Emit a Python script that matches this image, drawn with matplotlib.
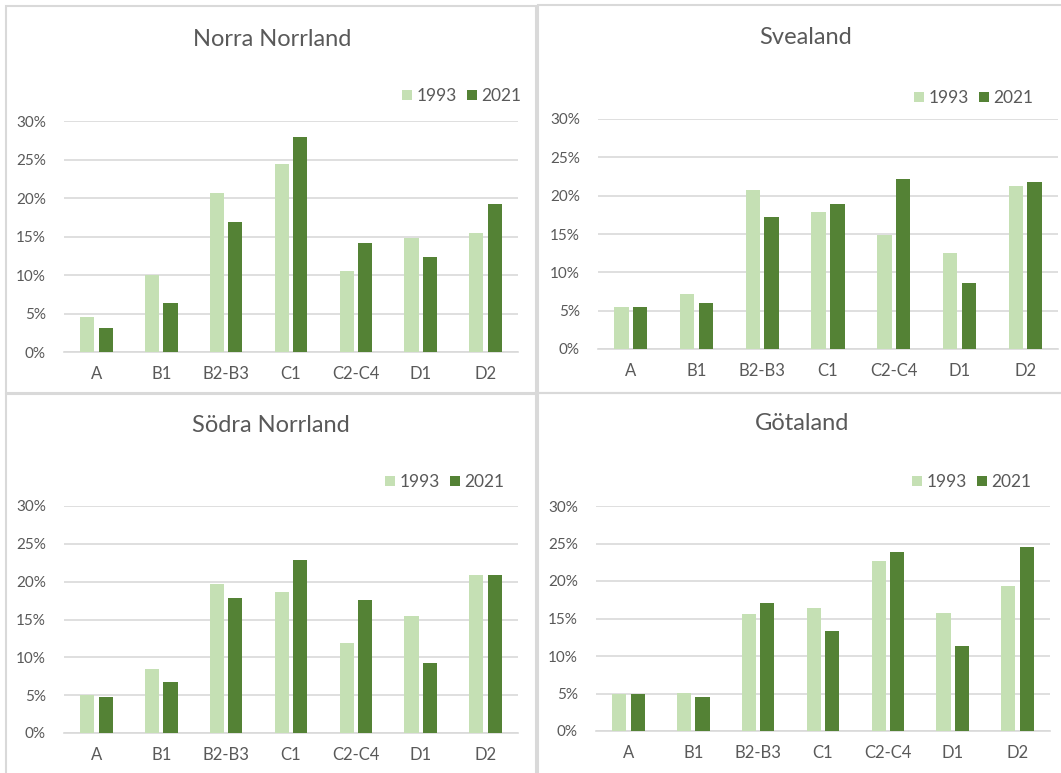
import matplotlib
matplotlib.use("Agg")
import matplotlib.pyplot as plt
from matplotlib.patches import Rectangle
from matplotlib.ticker import FuncFormatter

categories = ["A", "B1", "B2-B3", "C1", "C2-C4", "D1", "D2"]
series_names = ["1993", "2021"]

norra_norrland_1993 = [4.5, 10.0, 20.6, 24.4, 10.5, 14.8, 15.5]
norra_norrland_2021 = [3.1, 6.4, 16.9, 27.9, 14.2, 12.3, 19.2]

svealand_1993 = [5.5, 7.2, 20.8, 17.9, 14.9, 12.5, 21.2]
svealand_2021 = [5.5, 6.0, 17.2, 18.9, 22.2, 8.6, 21.8]

sodra_norrland_1993 = [5.0, 8.5, 19.7, 18.7, 11.9, 15.4, 20.9]
sodra_norrland_2021 = [4.8, 6.7, 17.9, 22.9, 17.6, 9.2, 20.9]

gotaland_1993 = [5.0, 5.1, 15.6, 16.4, 22.7, 15.8, 19.4]
gotaland_2021 = [5.0, 4.6, 17.1, 13.3, 23.9, 11.4, 24.6]

titles = ["Norra Norrland", "Svealand", "Södra Norrland", "Götaland"]
y_ticks = [0, 5, 10, 15, 20, 25, 30]

W, H = 1061, 773
fig = plt.figure(figsize=(W / 100, H / 100), dpi=100)
fig.patch.set_facecolor("white")

FONT = "Lato"
TXT = "#595959"
GRID = "#D9D9D9"
LIGHT = "#C5E0B4"
DARK = "#548235"

# panel pixel layout: (gx0, gx1, y30, y0, title_x, title_y, legend_right, legend_y)
panels = [
    (64, 518, 121, 352, 272, 40, 521, 96),
    (598, 1058, 119, 349, 806, 38, 1033, 98),
    (64, 518, 506, 733, 271, 425, 504, 482),
    (596, 1050, 506, 731, 802, 424, 1031, 482),
]
data = [
    (norra_norrland_1993, norra_norrland_2021),
    (svealand_1993, svealand_2021),
    (sodra_norrland_1993, sodra_norrland_2021),
    (gotaland_1993, gotaland_2021),
]

# panel borders (pixels: x0, y0, x1, y1)
borders = [(6, 6, 536, 393), (538, 5, 1070, 393), (6, 394, 536, 780), (538, 393, 1070, 780)]
for (bx0, by0, bx1, by1) in borders:
    fig.patches.append(Rectangle((bx0 / W, 1 - by1 / H), (bx1 - bx0) / W, (by1 - by0) / H,
                                 transform=fig.transFigure, fill=False,
                                 edgecolor=GRID, linewidth=1.5, zorder=0))

x = list(range(len(categories)))
bw = 0.22
off = 0.142
for (gx0, gx1, y30, y0, tx, ty, lx, ly), (v1, v2), title in zip(panels, data, titles):
    ax = fig.add_axes([gx0 / W, 1 - y0 / H, (gx1 - gx0) / W, (y0 - y30) / H])
    ax.set_facecolor("none")
    ax.bar([i - off for i in x], v1, width=bw, color=LIGHT, label=series_names[0], zorder=3)
    ax.bar([i + off for i in x], v2, width=bw, color=DARK, label=series_names[1], zorder=3)
    ax.set_xlim(-0.5, len(categories) - 0.5)
    ax.set_ylim(0, 30)
    ax.set_yticks(y_ticks)
    ax.yaxis.set_major_formatter(FuncFormatter(lambda v, p: f"{int(round(v))}%"))
    ax.set_xticks(x)
    ax.set_xticklabels(categories)
    ax.grid(axis="y", color=GRID, linewidth=1.2, zorder=0)
    ax.set_axisbelow(True)
    for s in ["top", "right", "left"]:
        ax.spines[s].set_visible(False)
    ax.spines["bottom"].set_color(GRID)
    ax.spines["bottom"].set_linewidth(1.2)
    ax.tick_params(axis="both", length=0, labelcolor=TXT)
    ax.tick_params(axis="y", pad=13, labelsize=11)
    ax.tick_params(axis="x", pad=10, labelsize=12)
    for lab in ax.get_xticklabels() + ax.get_yticklabels():
        lab.set_fontfamily(FONT)
    leg = ax.legend(loc="center right", bbox_to_anchor=(lx / W, 1 - ly / H),
                    bbox_transform=fig.transFigure, ncol=2, frameon=False,
                    handlelength=0.55, handleheight=0.55, handletextpad=0.25,
                    columnspacing=0.6, borderaxespad=0, borderpad=0,
                    prop={"family": FONT, "size": 12.5})
    for t in leg.get_texts():
        t.set_color(TXT)
    fig.text(tx / W, 1 - ty / H, title, ha="center", va="center",
             fontsize=17, color=TXT, family=FONT)

fig.savefig("out.png", dpi=100)
